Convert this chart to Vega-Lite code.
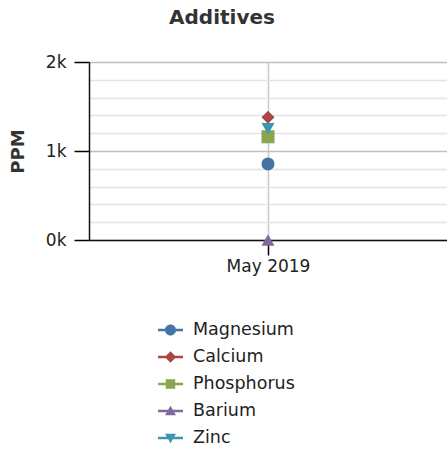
{
  "$schema": "https://vega.github.io/schema/vega-lite/v6.json",
  "width": 358,
  "height": 178,
  "autosize": "none",
  "padding": {"left": 89, "top": 62, "right": 0, "bottom": 209},
  "background": "white",
  "title": {
    "text": "Additives",
    "font": "DejaVu Sans",
    "fontSize": 20,
    "fontWeight": "bold",
    "color": "#333333",
    "anchor": "middle",
    "frame": "group",
    "dx": -46,
    "baseline": "alphabetic",
    "offset": 9
  },
  "data": {
    "values": [
      {"Month": "May 2019", "Element": "Magnesium", "PPM": 855},
      {"Month": "May 2019", "Element": "Calcium", "PPM": 1380},
      {"Month": "May 2019", "Element": "Phosphorus", "PPM": 1160},
      {"Month": "May 2019", "Element": "Barium", "PPM": 0},
      {"Month": "May 2019", "Element": "Zinc", "PPM": 1250}
    ]
  },
  "encoding": {
    "x": {
      "field": "Month",
      "type": "ordinal",
      "scale": {"type": "point", "padding": 0.5},
      "axis": {
        "title": null,
        "labelAngle": 0,
        "labelFontSize": 17,
        "labelColor": "#222222",
        "labelPadding": 3,
        "tickSize": 15,
        "tickColor": "#000000",
        "tickWidth": 1.5,
        "domainColor": "#111111",
        "domainWidth": 1.5,
        "grid": true,
        "gridColor": "#C8C8C8",
        "gridWidth": 1.5
      }
    },
    "y": {
      "field": "PPM",
      "type": "quantitative",
      "scale": {"domain": [0, 2000], "nice": false, "zero": true},
      "axis": {
        "title": "PPM",
        "titleFontSize": 18,
        "titleFontWeight": "bold",
        "titleColor": "#333333",
        "titleAngle": -90,
        "titleX": -71,
        "titleY": 89,
        "titleAlign": "center",
        "titleBaseline": "middle",
        "values": [0, 200, 400, 600, 800, 1000, 1200, 1400, 1600, 1800, 2000],
        "labelExpr": "datum.value % 1000 === 0 ? (datum.value / 1000) + 'k' : ''",
        "labelFontSize": 17,
        "labelColor": "#222222",
        "labelPadding": 8,
        "tickSize": 15,
        "tickColor": "#000000",
        "tickWidth": 1.5,
        "tickOpacity": {"condition": {"test": "datum.value % 1000 === 0", "value": 1}, "value": 0},
        "domainColor": "#111111",
        "domainWidth": 1.5,
        "grid": true,
        "gridColor": {"condition": {"test": "datum.value % 1000 === 0", "value": "#C0C0C0"}, "value": "#E4E4E4"},
        "gridWidth": 1.5
      }
    }
  },
  "layer": [
    {
      "mark": {"type": "point", "filled": true, "opacity": 0},
      "encoding": {
        "color": {
          "field": "Element",
          "type": "nominal",
          "scale": {
            "domain": ["Magnesium", "Calcium", "Phosphorus", "Barium", "Zinc"],
            "range": ["#4572A7", "#AA4643", "#89A54E", "#80699B", "#3D96AE"]
          },
          "legend": {
            "title": null,
            "orient": "none",
            "legendX": 69,
            "legendY": 255.5,
            "direction": "vertical",
            "padding": 0,
            "symbolSize": 625,
            "symbolStrokeWidth": 0,
            "symbolOpacity": 1,
            "labelFont": "DejaVu Sans",
            "labelFontSize": 17.5,
            "labelColor": "#222222",
            "labelOffset": 10,
            "rowPadding": 6
          }
        },
        "shape": {
          "field": "Element",
          "type": "nominal",
          "scale": {
            "domain": ["Magnesium", "Calcium", "Phosphorus", "Barium", "Zinc"],
            "range": [
              "M-1,-0.1H1V0.1H-1Z M-0.44,0A0.44,0.44 0 1,1 0.44,0A0.44,0.44 0 1,1 -0.44,0Z",
              "M-1,-0.1H1V0.1H-1Z M0,-0.46L0.46,0L0,0.46L-0.46,0Z",
              "M-1,-0.1H1V0.1H-1Z M-0.38,-0.38H0.38V0.38H-0.38Z",
              "M-1,-0.1H1V0.1H-1Z M0,-0.42L0.44,0.34L-0.44,0.34Z",
              "M-1,-0.1H1V0.1H-1Z M-0.44,-0.34L0.44,-0.34L0,0.42Z"
            ]
          },
          "legend": {
            "title": null,
            "orient": "none",
            "legendX": 69,
            "legendY": 255.5,
            "direction": "vertical",
            "padding": 0,
            "symbolSize": 625,
            "symbolStrokeWidth": 0,
            "symbolOpacity": 1,
            "labelFont": "DejaVu Sans",
            "labelFontSize": 17.5,
            "labelColor": "#222222",
            "labelOffset": 10,
            "rowPadding": 6
          }
        }
      }
    },
    {
      "mark": {"type": "point", "filled": true, "opacity": 1, "size": 170},
      "encoding": {
        "fill": {
          "field": "Element",
          "type": "nominal",
          "scale": {
            "domain": ["Magnesium", "Calcium", "Phosphorus", "Barium", "Zinc"],
            "range": ["#4572A7", "#AA4643", "#89A54E", "#80699B", "#3D96AE"]
          },
          "legend": null
        },
        "shape": {
          "condition": [
            {"test": "datum.Element === 'Calcium'", "value": "diamond"},
            {"test": "datum.Element === 'Phosphorus'", "value": "square"},
            {"test": "datum.Element === 'Barium'", "value": "triangle-up"},
            {"test": "datum.Element === 'Zinc'", "value": "triangle-down"}
          ],
          "value": "circle"
        }
      }
    }
  ],
  "config": {
    "font": "DejaVu Sans",
    "view": {"stroke": null}
  }
}
